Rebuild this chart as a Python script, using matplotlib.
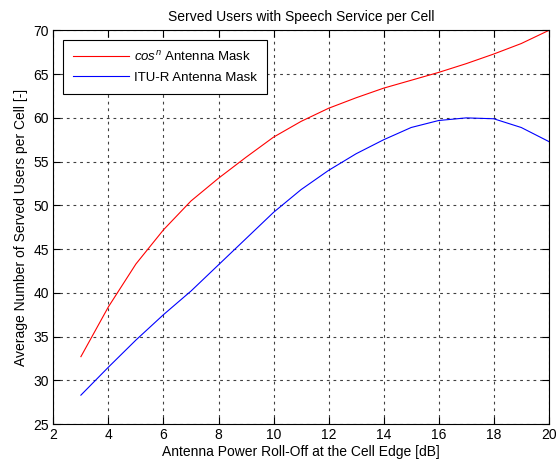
import matplotlib
matplotlib.use('Agg')
import matplotlib.pyplot as plt
import numpy as np

plt.rcParams['font.family'] = ['Liberation Sans', 'DejaVu Sans']
plt.rcParams['mathtext.fontset'] = 'custom'
plt.rcParams['mathtext.rm'] = 'Liberation Sans'
plt.rcParams['mathtext.it'] = 'Liberation Sans:italic'

# roll-off at the cell edge [dB]
roll_off = [3, 4, 5, 6, 7, 8, 9, 10, 11, 12, 13, 14, 15, 16, 17, 18, 19, 20]

# average served users per cell
users_cos = [32.7, 38.4, 43.3, 47.2, 50.5, 53.1, 55.5, 57.8, 59.6, 61.1,
             62.3, 63.4, 64.3, 65.2, 66.2, 67.3, 68.5, 70.0]
users_itu = [28.3, 31.5, 34.6, 37.5, 40.2, 43.2, 46.2, 49.2, 51.8, 54.0,
             55.9, 57.5, 58.9, 59.7, 60.0, 59.9, 58.9, 57.3]

fig = plt.figure(figsize=(5.56, 4.68), dpi=100)
ax = fig.add_axes([0.096, 0.094, 0.891, 0.841])

ax.plot(roll_off, users_cos, color='red', linewidth=0.8,
        label=r'$\mathit{cos}^{\mathit{n}}$ Antenna Mask')
ax.plot(roll_off, users_itu, color='blue', linewidth=0.8,
        label='ITU-R Antenna Mask')

ax.set_xlim(2, 20)
ax.set_ylim(25, 70)
ax.set_xticks(np.arange(2, 21, 2))
ax.set_yticks(np.arange(25, 71, 5))
ax.tick_params(direction='in', top=True, right=True, labelsize=10, length=5, pad=3)
ax.grid(True, color='black', linestyle=(0, (2.5, 3.5)), linewidth=0.8, alpha=0.75)

ax.set_title('Served Users with Speech Service per Cell', fontsize=10, pad=7)
ax.set_xlabel('Antenna Power Roll-Off at the Cell Edge [dB]', fontsize=10, labelpad=2)
ax.set_ylabel('Average Number of Served Users per Cell [-]', fontsize=10, labelpad=4)

leg = ax.legend(loc='upper left', fontsize=9.5, fancybox=False, framealpha=1,
                edgecolor='black', handlelength=4.3, borderpad=0.75,
                borderaxespad=0.7, handletextpad=0.35, labelspacing=0.6)
leg.get_frame().set_linewidth(0.8)

fig.savefig('out.png', dpi=100)
